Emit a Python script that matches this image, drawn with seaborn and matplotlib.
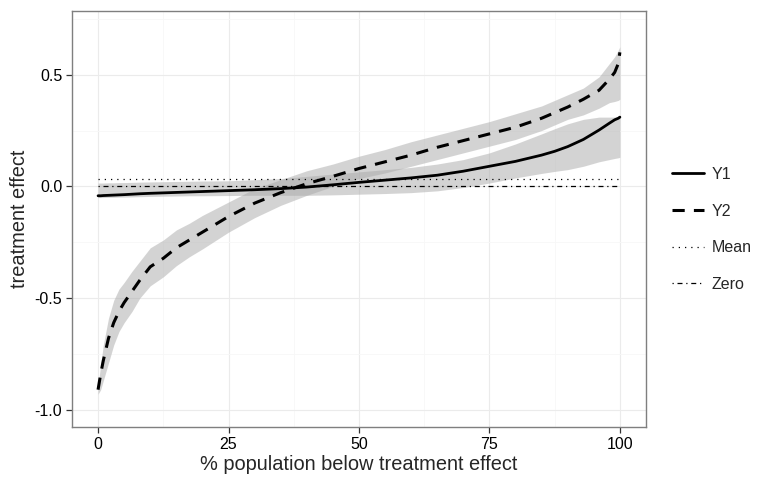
import matplotlib
matplotlib.use("Agg")
import matplotlib.pyplot as plt
import seaborn as sns
import pandas as pd
import numpy as np

# percent of population (x) and the two treatment effect curves with their bands
pct = [0, 0.5, 1, 2, 3, 4, 5, 6.5, 8, 10, 12.5, 15, 17.5, 20, 25, 30, 35, 40, 45,
       50, 55, 60, 65, 70, 75, 80, 85, 87.5, 90, 93, 96, 98, 99, 99.7, 100]

y2 = [-0.91, -0.84, -0.78, -0.68, -0.61, -0.56, -0.52, -0.47, -0.42, -0.36, -0.322,
      -0.275, -0.24, -0.205, -0.135, -0.075, -0.028, 0.012, 0.045, 0.08, 0.11, 0.14,
      0.175, 0.205, 0.235, 0.265, 0.305, 0.33, 0.355, 0.39, 0.43, 0.48, 0.51, 0.55, 0.60]
y2_lo = [-0.93, -0.91, -0.87, -0.79, -0.71, -0.65, -0.61, -0.56, -0.50, -0.445, -0.405,
         -0.355, -0.315, -0.28, -0.205, -0.14, -0.085, -0.04, 0.0, 0.035, 0.06, 0.09,
         0.12, 0.15, 0.18, 0.21, 0.25, 0.275, 0.30, 0.32, 0.35, 0.375, 0.38, 0.385, 0.39]
y2_hi = [-0.89, -0.80, -0.71, -0.59, -0.51, -0.46, -0.43, -0.38, -0.335, -0.275, -0.24,
         -0.195, -0.165, -0.13, -0.07, -0.01, 0.03, 0.07, 0.10, 0.135, 0.165, 0.20,
         0.23, 0.26, 0.29, 0.325, 0.36, 0.385, 0.41, 0.44, 0.49, 0.55, 0.58, 0.61, 0.625]

y1 = [-0.042, -0.042, -0.041, -0.040, -0.039, -0.038, -0.037, -0.035, -0.033, -0.031,
      -0.029, -0.027, -0.025, -0.023, -0.019, -0.015, -0.010, -0.003, 0.007, 0.018,
      0.028, 0.038, 0.050, 0.068, 0.09, 0.112, 0.14, 0.157, 0.178, 0.21, 0.252,
      0.283, 0.298, 0.305, 0.31]
y1_lo = [-0.05, -0.05, -0.05, -0.049, -0.049, -0.048, -0.048, -0.047, -0.046, -0.045,
         -0.044, -0.043, -0.042, -0.042, -0.041, -0.040, -0.040, -0.040, -0.038, -0.035,
         -0.032, -0.028, -0.02, -0.005, 0.015, 0.038, 0.058, 0.067, 0.075, 0.09, 0.11,
         0.12, 0.125, 0.128, 0.13]
y1_hi = [0.015, 0.015, 0.015, 0.016, 0.016, 0.017, 0.017, 0.018, 0.019, 0.02, 0.021,
         0.022, 0.023, 0.024, 0.025, 0.03, 0.035, 0.045, 0.055, 0.065, 0.075, 0.085,
         0.10, 0.12, 0.15, 0.19, 0.235, 0.258, 0.28, 0.30, 0.31, 0.31, 0.31, 0.31, 0.31]

mean_effect = 0.032
ref_x = [0, 100]

x_ticks = [0, 25, 50, 75, 100]
y_ticks = [-1.0, -0.5, 0.0, 0.5]
y_tick_labels = ["-1.0", "-0.5", "0.0", "0.5"]

df = pd.DataFrame({"pct": pct, "Y1": y1, "Y2": y2,
                   "y1_lo": y1_lo, "y1_hi": y1_hi, "y2_lo": y2_lo, "y2_hi": y2_hi})
ref = pd.DataFrame({"pct": ref_x, "Mean": [mean_effect] * 2, "Zero": [0.0] * 2})

sns.set_theme(style="white")
plt.rcParams["font.family"] = ["Liberation Sans", "DejaVu Sans"]

fig = plt.figure(figsize=(7.64, 4.87), dpi=100)
ax = fig.add_axes([0.0942, 0.1232, 0.7513, 0.8542])

band = "#a9a9a9"
ax.fill_between(df["pct"], df["y1_lo"], df["y1_hi"], color=band, alpha=0.5, lw=0)
ax.fill_between(df["pct"], df["y2_lo"], df["y2_hi"], color=band, alpha=0.5, lw=0)

sns.lineplot(data=df, x="pct", y="Y1", ax=ax, color="black", lw=2.0, label="Y1")
sns.lineplot(data=df, x="pct", y="Y2", ax=ax, color="black", lw=2.2,
             linestyle=(0, (4, 3)), label="Y2")
sns.lineplot(data=ref, x="pct", y="Mean", ax=ax, color="black", lw=0.9,
             linestyle=(0, (1, 4)), label="Mean")
sns.lineplot(data=ref, x="pct", y="Zero", ax=ax, color="black", lw=0.9,
             linestyle=(0, (1, 3, 4, 3)), label="Zero")

ax.set_xlim(-5, 105)
ax.set_ylim(-1.077, 0.785)
ax.set_xticks(x_ticks)
ax.set_xticks([12.5, 37.5, 62.5, 87.5], minor=True)
ax.set_yticks(y_ticks)
ax.set_yticklabels(y_tick_labels)
ax.set_yticks([-0.75, -0.25, 0.25, 0.75], minor=True)
ax.grid(True, which="major", color="#ebebeb", lw=0.8)
ax.grid(True, which="minor", color="#f7f7f7", lw=0.6)
ax.set_axisbelow(True)

for s in ax.spines.values():
    s.set_color("#7f7f7f")
    s.set_linewidth(1.0)

ax.tick_params(axis="both", which="major", direction="out", length=4, width=0.9,
               color="#333333", labelsize=11.5, labelcolor="black", pad=3,
               bottom=True, left=True)
ax.tick_params(axis="both", which="minor", length=0)

ax.set_xlabel("% population below treatment effect", fontsize=14.4, labelpad=2)
ax.set_ylabel("treatment effect", fontsize=14.4, labelpad=4)

handles, labels = ax.get_legend_handles_labels()
ax.legend(handles, labels, loc="center left", bbox_to_anchor=(1.02, 0.475),
          frameon=False, fontsize=11.5, handlelength=2.0, handletextpad=0.5,
          labelspacing=1.35)

fig.savefig("out.png", dpi=100)
